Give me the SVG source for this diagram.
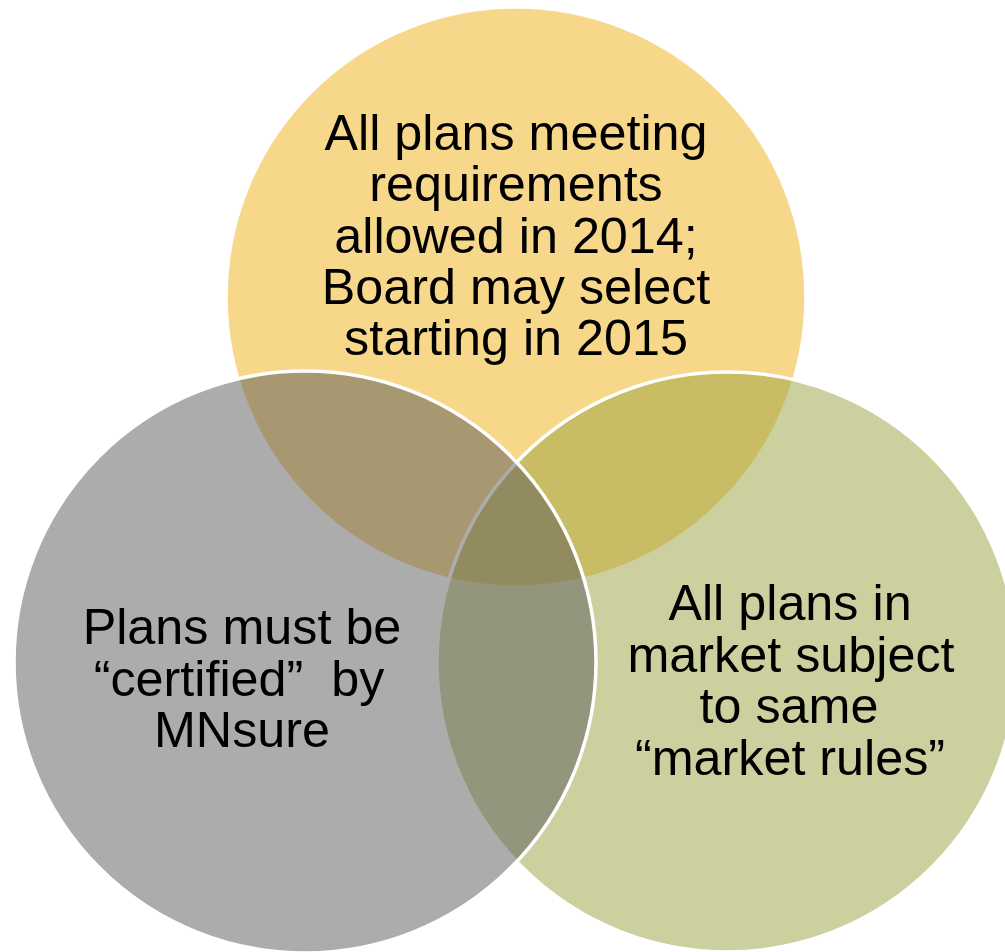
<svg xmlns="http://www.w3.org/2000/svg" width="1005" height="952" viewBox="0 0 1005 952">
  <style>
    .set { stroke: #FFFFFF; stroke-width: 3.5; fill-opacity: 0.5; }
    .label { font-family: "Liberation Sans", Arial, sans-serif; font-size: 50.3px; fill: #000000; text-anchor: middle; white-space: pre; }
  </style>
  <rect width="1005" height="952" fill="#FFFFFF"/>
  <!-- Circles are half-transparent; paint order yellow, green, grey -->
  <g id="node-top">
    <circle class="set" cx="516" cy="297" r="290" fill="#EFAF15"/>
  </g>
  <g id="node-right">
    <circle class="set" cx="727" cy="662" r="290" fill="#99A13D"/>
  </g>
  <g id="node-left">
    <circle class="set" cx="305" cy="662" r="291" fill="#595959"/>
  </g>
  <g id="connectors"/>
  <g id="labels">
    <g id="label-top" class="label">
      <text x="516" y="150">All plans meeting</text>
      <text x="516" y="201">requirements</text>
      <text x="516" y="253">allowed in 2014;</text>
      <text x="516" y="304">Board may select</text>
      <text x="516" y="355">starting in 2015</text>
    </g>
    <g id="label-left" class="label">
      <text x="242" y="644">Plans must be</text>
      <text x="239" y="696" xml:space="preserve">“certified”  by</text>
      <text x="242" y="747">MNsure</text>
    </g>
    <g id="label-right" class="label">
      <text x="790" y="620">All plans in</text>
      <text x="791" y="672">market subject</text>
      <text x="789" y="723">to same</text>
      <text x="790" y="775">“market rules”</text>
    </g>
  </g>
</svg>
